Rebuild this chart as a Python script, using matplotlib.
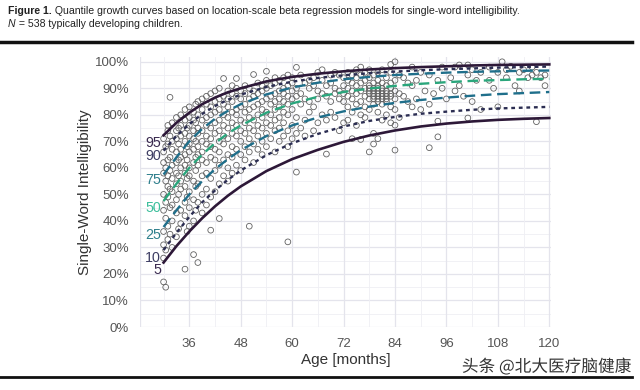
import matplotlib
matplotlib.use("Agg")
import matplotlib.pyplot as plt
from matplotlib.lines import Line2D
import matplotlib.patheffects as pe
from matplotlib import font_manager

plt.rcParams['font.family'] = ['Liberation Sans', 'DejaVu Sans']

# ---------------- data ----------------
curve_ages = [30, 33, 36, 39, 42, 45, 48, 54, 60, 66, 72, 78, 84, 90, 96, 102, 108, 114, 120]
q95 = [72.3, 77.0, 80.8, 84.0, 86.5, 88.5, 90.0, 92.6, 94.3, 95.5, 96.4, 97.1, 97.6, 98.0, 98.3, 98.6, 98.8, 98.9, 99.0]
q90 = [66.5, 72.0, 76.5, 80.3, 83.3, 85.7, 87.6, 90.5, 92.5, 93.9, 94.9, 95.7, 96.3, 96.8, 97.2, 97.5, 97.8, 98.0, 98.2]
q75 = [57.5, 64.0, 70.0, 74.7, 78.5, 81.5, 84.0, 87.7, 90.3, 92.1, 93.4, 94.3, 95.0, 95.5, 95.9, 96.2, 96.4, 96.6, 96.7]
q50 = [47.5, 54.0, 60.0, 65.0, 69.3, 73.0, 76.0, 80.8, 84.3, 86.8, 88.6, 89.9, 90.9, 91.7, 92.3, 92.8, 93.1, 93.4, 93.6]
q25 = [37.7, 44.0, 50.0, 55.0, 59.5, 63.3, 66.7, 72.0, 76.0, 79.0, 81.3, 83.1, 84.5, 85.6, 86.5, 87.2, 87.8, 88.2, 88.6]
q10 = [29.0, 35.5, 41.5, 47.0, 51.5, 55.5, 59.0, 64.8, 69.3, 72.8, 75.6, 77.7, 79.2, 80.4, 81.2, 81.9, 82.4, 82.7, 83.0]
q05 = [24.3, 30.5, 36.0, 41.0, 45.5, 49.5, 53.0, 58.8, 63.3, 66.8, 69.8, 72.2, 74.1, 75.6, 76.7, 77.5, 78.1, 78.5, 78.8]

quantile_labels = ["95", "90", "75", "50", "25", "10", "5"]
label_pos = [69.2, 64.4, 55.4, 44.9, 34.6, 26.2, 21.4]

scatter_ages = [30, 30.5, 31, 31.5, 32, 33, 33.5, 34, 35, 35.5, 36, 37, 37.5, 38, 39, 40, 41, 42, 43, 44,
                45, 46, 47, 48, 49, 50, 51, 52, 53, 54, 55, 56, 57, 58, 59, 60, 61, 62, 63, 64,
                65, 66, 67, 68, 69, 70, 71, 72, 73, 74, 75, 76, 77, 78, 79, 80, 81, 82, 83, 84,
                85, 86, 87, 88, 89, 90, 91, 92, 93, 94, 95, 96, 97, 98, 99, 100, 101, 102, 103, 104,
                105, 106, 107, 108, 109, 110, 111, 112, 113, 114, 115, 116, 117, 118, 119]
scatter_values = [
    [26, 31, 36, 44, 50, 58, 62, 66, 71, 17],
    [29, 41, 47, 55, 60, 68, 15],
    [33, 38, 49, 53, 57, 63, 69, 74, 76],
    [35, 45, 52, 59, 64, 72, 86.6],
    [30, 40, 46, 51, 56, 61, 67, 70, 77],
    [34, 43, 48, 54, 58, 62, 66, 71, 74, 79],
    [37, 50, 57, 63, 69, 75],
    [39, 44, 52, 55, 60, 64, 67, 72, 76, 80],
    [21.8, 42, 47, 53, 58, 61, 65, 70, 73, 78, 82],
    [36, 49, 56, 63, 68, 75],
    [38, 45, 51, 57, 60, 66, 69, 72, 76, 79, 83],
    [27.3, 40, 48, 55, 62, 67, 71, 74, 78, 81],
    [44, 53, 59, 64, 70, 77, 84],
    [24.3, 47, 54, 61, 65, 68, 73, 75, 80, 85],
    [43, 50, 57, 63, 66, 70, 74, 78, 82, 86],
    [46, 52, 58, 62, 69, 72, 76, 79, 84, 87],
    [36.5, 49, 56, 64, 68, 71, 75, 80, 83, 88],
    [51, 59, 63, 67, 73, 77, 81, 85, 89],
    [40.9, 54, 61, 66, 70, 74, 78, 82, 86, 90],
    [57, 63, 69, 72, 76, 80, 84, 87, 93.7],
    [55, 60, 65, 71, 75, 79, 83, 86, 89],
    [58, 64, 68, 73, 77, 81, 85, 88, 91],
    [61, 67, 72, 76, 80, 82, 87, 90, 93.7],
    [59, 65, 70, 74, 78, 83, 86, 89],
    [63, 68, 73, 77, 81, 84, 88, 91],
    [38, 66, 71, 75, 79, 82, 86, 90],
    [62, 69, 74, 78, 83, 87, 89, 95.2],
    [67, 72, 76, 80, 84, 88, 92],
    [65, 70, 75, 79, 82, 85, 89, 91],
    [68, 73, 77, 81, 86, 90, 93, 96.4],
    [71, 76, 80, 84, 87, 91],
    [66, 74, 78, 82, 85, 88, 92, 94],
    [70, 75, 79, 83, 86, 89, 93],
    [72, 77, 81, 85, 88, 90, 94],
    [32.1, 68, 74, 80, 84, 87, 91, 95],
    [71, 76, 82, 86, 89, 92, 94],
    [58.4, 73, 79, 87, 90, 97.9],
    [75, 84, 88, 95],
    [72, 78, 86, 92],
    [81, 85, 90, 93],
    [74, 83, 91, 94],
    [77, 86, 89, 96],
    [80, 88, 93, 97],
    [65.2, 78, 87, 91],
    [81, 85, 92, 95],
    [79, 88, 90, 96],
    [74, 86, 89, 95],
    [77, 85, 88, 91, 94],
    [78, 83, 87, 90, 93, 96],
    [71, 81, 86, 89, 92, 95],
    [76, 84, 88, 91, 94, 97],
    [70.7, 80, 85, 89, 92, 95, 98],
    [79, 83, 87, 90, 93, 96],
    [66, 82, 86, 88, 89, 90, 91, 94, 97],
    [69, 73, 84, 86, 87, 88, 89, 90, 92, 95],
    [71, 81, 85, 86, 87, 88, 89, 90, 91, 93, 96],
    [78, 84, 86, 87, 88, 89, 90, 92, 97],
    [80, 85, 86, 87, 88, 89, 91, 94],
    [77, 83, 87, 88, 90, 92, 96, 99],
    [66.7, 76.1, 82, 86, 89, 93, 100],
    [79, 88, 95],
    [87, 94],
    [85, 92],
    [83, 91, 98],
    [86, 93],
    [82, 96],
    [89],
    [67.6, 84, 95],
    [88],
    [71.7, 77.6, 93],
    [90, 98],
    [86],
    [94],
    [89, 98],
    [91, 98.8],
    [87],
    [78.8, 95, 98.8],
    [85, 97],
    [93],
    [82, 96],
    [],
    [93, 98],
    [90],
    [83, 96],
    [100],
    [94, 97],
    [98.3],
    [91],
    [89, 96],
    [97],
    [94],
    [95, 98],
    [77.4, 96],
    [94],
    [91, 95],
]

x_ticks = [36, 48, 60, 72, 84, 96, 108, 120]
y_ticks = [0, 10, 20, 30, 40, 50, 60, 70, 80, 90, 100]

# ---------------- figure ----------------
fig = plt.figure(figsize=(6.4, 3.9), dpi=100)
fig.patch.set_facecolor('white')

ax = fig.add_axes([140/640, 1-327/390, 411/640, 270/390])
ax.set_xlim(24.5, 120.4)
ax.set_ylim(0, 101.8)

# grid
for v in range(0, 101, 5):
    ax.axhline(v, color='#e4e4ec' if v % 10 == 0 else '#efeff4', lw=0.9 if v % 10 == 0 else 0.6, zorder=0)
for v in range(30, 121, 6):
    ax.axvline(v, color='#e4e4ec' if v % 12 == 0 else '#efeff4', lw=0.9 if v % 12 == 0 else 0.6, zorder=0)
ax.axvline(24.6, color='#e4e4ec', lw=0.9, zorder=0)

for sp in ax.spines.values():
    sp.set_visible(False)

# scatter
xs, ys = [], []
for a, vals in zip(scatter_ages, scatter_values):
    for v in vals:
        xs.append(a)
        ys.append(v)
ax.scatter(xs, ys, s=17, facecolors='none', edgecolors='#626262', linewidths=0.6, zorder=2)

# curves
c_solid = '#2d1838'
c_dot = '#2b2d52'
c_teal = '#1f6f8b'
c_green = '#2aa67c'
ax.plot(curve_ages, q95, color=c_solid, lw=1.9, zorder=3)
ax.plot(curve_ages, q05, color=c_solid, lw=1.9, zorder=3)
ax.plot(curve_ages, q90, color=c_dot, lw=1.7, ls=(0, (1.6, 1.6)), zorder=3)
ax.plot(curve_ages, q10, color=c_dot, lw=1.7, ls=(0, (1.6, 1.6)), zorder=3)
ax.plot(curve_ages, q75, color=c_teal, lw=1.7, ls=(0, (4.5, 2.4)), zorder=3)
ax.plot(curve_ages, q25, color=c_teal, lw=1.7, ls=(0, (4.5, 2.4)), zorder=3)
ax.plot(curve_ages, q50, color=c_green, lw=1.7, ls=(0, (4.5, 2.4)), zorder=3)

label_colors = ['#3a2a4f', '#3d3d63', '#2e7f8c', '#3dbf9c', '#2e7f8c', '#3d3d63', '#3a2a4f']
for lab, yv, col in zip(quantile_labels, label_pos, label_colors):
    ax.text(29.4, yv, lab, ha='right', va='center', fontsize=10.3, color=col, zorder=4)

ax.set_xticks(x_ticks)
ax.set_xticklabels([str(t) for t in x_ticks])
ax.set_yticks(y_ticks)
ax.set_yticklabels([f"{t}%" for t in y_ticks])
ax.tick_params(length=0, labelsize=9.5, labelcolor='#555555', pad=8)
ax.set_xlabel("Age [months]", fontsize=11, color='#333333', labelpad=2)
ax.set_ylabel("Single-Word Intelligibility", fontsize=11, color='#333333', labelpad=2)

# caption (placed piece by piece)
cap_family = ['Liberation Sans', 'DejaVu Sans']
cap_fs = 7.6
renderer = fig.canvas.get_renderer()

def put_run(x_px, y_px, pieces):
    x = x_px
    for txt, kw in pieces:
        t = fig.text(x/640, 1-y_px/390, txt, fontsize=cap_fs, color='#222222', va='center',
                     family=cap_family, **kw)
        bb = t.get_window_extent(renderer=renderer)
        x += bb.width

put_run(8, 11, [("Figure 1.", dict(fontweight='bold')),
                (" Quantile growth curves based on location-scale beta regression models for single-word intelligibility.", {})])
put_run(8, 24, [("N", dict(style='italic')), (" = 538 typically developing children.", {})])

# rules
fig.add_artist(Line2D([0, 632/640], [1-42/390, 1-42/390], color='#111111', lw=2.5))
fig.add_artist(Line2D([0, 632/640], [1-377/390, 1-377/390], color='#111111', lw=2.0))

# watermark
fig.text(631/640, 1-367/390, "头条 @北大医疗脑健康", fontsize=12, color='#333333', ha='right', va='center',
         family=['Noto Sans CJK SC', 'DejaVu Sans'],
         path_effects=[pe.withStroke(linewidth=2, foreground='white')])

fig.savefig("out.png", dpi=100, facecolor='white')
